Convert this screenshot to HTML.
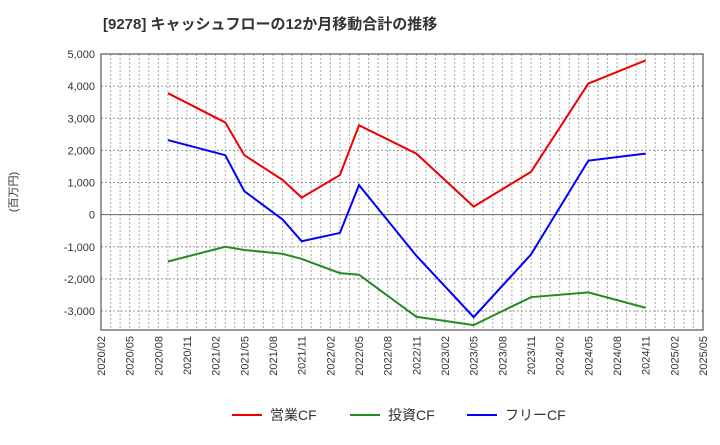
<!DOCTYPE html>
<html><head><meta charset="utf-8"><style>
body{margin:0;background:#fff;font-family:"Liberation Sans","Noto Sans CJK JP",sans-serif}
svg text{font-family:"Liberation Sans","Noto Sans CJK JP",sans-serif}
</style></head><body>
<svg id="c" width="720" height="440" xmlns="http://www.w3.org/2000/svg">
<text x="103" y="29" font-size="15" font-weight="bold" fill="#333">[9278]  キャッシュフローの12か月移動合計の推移</text>
<text transform="translate(17,192) rotate(-90)" font-size="11" fill="#333" text-anchor="middle">(百万円)</text>
<g id="grid"></g><g id="axes"></g><g id="series"></g>
<g>
<line x1="232" y1="415" x2="262" y2="415" stroke="#e00" stroke-width="2"/><text x="270" y="420" font-size="14" fill="#333">営業CF</text>
<line x1="350" y1="415" x2="380" y2="415" stroke="#228b22" stroke-width="2"/><text x="388" y="420" font-size="14" fill="#333">投資CF</text>
<line x1="467" y1="415" x2="497" y2="415" stroke="#00f" stroke-width="2"/><text x="505" y="420" font-size="14" fill="#333">フリーCF</text>
</g>
</svg>
<script>
const monthOffsets=[7,13,15,19,21,25,27,33,39,45,51,57];
const operatingCF=[3780,2870,1850,1080,530,1230,2780,1900,250,1330,4080,4800];
const investingCF=[-1460,-1000,-1100,-1220,-1380,-1820,-1870,-3180,-3440,-2570,-2420,-2900];
const freeCF=[2320,1850,730,-150,-830,-570,920,-1280,-3190,-1240,1680,1900];
const yTicks=[5000,4000,3000,2000,1000,0,-1000,-2000,-3000];
const yTickLabels=["5,000","4,000","3,000","2,000","1,000","0","-1,000","-2,000","-3,000"];
const xTickLabels=["2020/02","2020/05","2020/08","2020/11","2021/02","2021/05","2021/08","2021/11","2022/02","2022/05","2022/08","2022/11","2023/02","2023/05","2023/08","2023/11","2024/02","2024/05","2024/08","2024/11","2025/02","2025/05"];
const L=101,R=703,T=54,B=330,totalMonths=63;
const xs=m=>L+(R-L)*m/totalMonths;
const ys=v=>T+(5000-v)*(311-54)/8000;
const NS="http://www.w3.org/2000/svg";
function mk(p,t,a){const e=document.createElementNS(NS,t);for(const k in a)e.setAttribute(k,a[k]);p.appendChild(e);return e;}
const g=document.getElementById('grid'),ax=document.getElementById('axes'),s=document.getElementById('series');
for(let m=1;m<totalMonths;m++){const l=mk(g,'line',{x1:xs(m),x2:xs(m),y1:T,y2:B,stroke:'#aaa','stroke-dasharray':'2,2','stroke-width':1});

}
yTicks.forEach((v,i)=>{const l=mk(g,'line',{x1:L,x2:R,y1:ys(v),y2:ys(v),stroke:v===0?'#666':'#999','stroke-dasharray':v===0?'':'2,2','stroke-width':1});


const t=mk(ax,'text',{x:L-6,y:ys(v)+4,'text-anchor':'end','font-size':11,fill:'#333'});t.textContent=yTickLabels[i];

});
xTickLabels.forEach((lab,i)=>{const x=xs(i*3);const t=mk(ax,'text',{transform:`translate(${x+4},${B+6}) rotate(-90)`,'text-anchor':'end','font-size':11,fill:'#333'});t.textContent=lab;

});
const fr=mk(ax,'rect',{x:L,y:T,width:R-L,height:B-T,fill:'none',stroke:'#333','stroke-width':1});


[[operatingCF,'#e00','operating-cf-line'],[investingCF,'#228b22','investing-cf-line'],[freeCF,'#00f','free-cf-line']].forEach(([d,c,n])=>{
const p=mk(s,'polyline',{points:d.map((v,i)=>xs(monthOffsets[i])+','+ys(v)).join(' '),fill:'none',stroke:c,'stroke-width':2});

});
</script>
</body></html>
